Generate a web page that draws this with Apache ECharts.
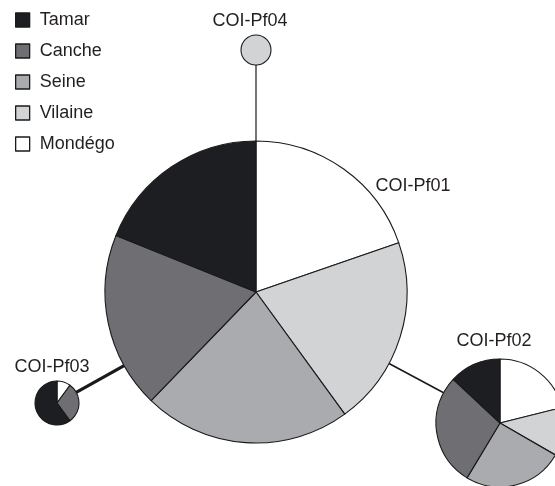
<!DOCTYPE html>
<html>
<head>
<meta charset="utf-8">
<script src="https://cdn.jsdelivr.net/npm/echarts@6/dist/echarts.min.js"></script>
<style>
  html, body { margin: 0; padding: 0; background: #ffffff; }
  #chart { width: 555px; height: 486px; }
</style>
</head>
<body>
<div id="chart"></div>
<script>
// ---- Data ----
const categories = ['Tamar', 'Canche', 'Seine', 'Vilaine', 'Mondégo'];
const haplotypes = ['COI-Pf01', 'COI-Pf02', 'COI-Pf03', 'COI-Pf04'];
// values per category (Tamar, Canche, Seine, Vilaine, Mondégo)
const pf01 = [68, 68, 80, 73, 71];
const pf02 = [47, 102, 91, 44, 76];
const pf03 = [6, 3, 0, 0, 1];
const pf04 = [0, 0, 0, 1, 0];
// links between haplotypes (index pairs)
const links = [[0, 1], [0, 2], [0, 3]];

// ---- Styling / layout ----
const colors = ['#1d1e22', '#6f6e73', '#aaabae', '#d2d3d5', '#ffffff'];
const nodeLayout = [
  { center: [256, 292], r: 151, label: [413, 186] },
  { center: [500, 423], r: 64, label: [494, 341] },
  { center: [57, 403], r: 22, label: [52, 367] },
  { center: [256, 50], r: 15, label: [250, 21] }
];
const linkWidth = [1.6, 3.2, 1.2];
const FONT = '"Liberation Sans", Arial, Helvetica, sans-serif';
const TEXT = '#231f20';

const values = [pf01, pf02, pf03, pf04];

function pieData(vals) {
  const out = [];
  // drawn clockwise from 12 o'clock: Mondégo, Vilaine, Seine, Canche, Tamar
  for (let i = categories.length - 1; i >= 0; i--) {
    if (vals[i] > 0) {
      out.push({ name: categories[i], value: vals[i], itemStyle: { color: colors[i] } });
    }
  }
  return out;
}

const series = values.map((vals, k) => ({
  type: 'pie',
  name: haplotypes[k],
  center: nodeLayout[k].center,
  radius: [0, nodeLayout[k].r],
  startAngle: 90,
  clockwise: true,
  avoidLabelOverlap: false,
  label: { show: false },
  labelLine: { show: false },
  emphasis: { scale: false },
  itemStyle: { borderColor: '#1a1a1a', borderWidth: 1.1 },
  data: pieData(vals),
  z: 3
}));

const graphics = [];
links.forEach((l, i) => {
  const a = nodeLayout[l[0]], b = nodeLayout[l[1]];
  const dx = b.center[0] - a.center[0], dy = b.center[1] - a.center[1];
  const d = Math.sqrt(dx * dx + dy * dy);
  const ux = dx / d, uy = dy / d;
  graphics.push({
    type: 'line',
    z: 1,
    shape: {
      x1: a.center[0] + ux * a.r, y1: a.center[1] + uy * a.r,
      x2: b.center[0] - ux * b.r, y2: b.center[1] - uy * b.r
    },
    style: { stroke: '#1a1a1a', lineWidth: linkWidth[i] }
  });
});
haplotypes.forEach((h, k) => {
  graphics.push({
    type: 'text',
    z: 10,
    x: nodeLayout[k].label[0],
    y: nodeLayout[k].label[1],
    style: {
      text: h,
      fill: TEXT,
      font: '18px ' + FONT,
      textAlign: 'center',
      textVerticalAlign: 'middle'
    }
  });
});

const chart = echarts.init(document.getElementById('chart'), null, { renderer: 'canvas' });
chart.setOption({
  animation: false,
  backgroundColor: '#ffffff',
  color: colors,
  legend: {
    data: categories,
    orient: 'vertical',
    left: 15,
    top: 11,
    padding: 0,
    itemWidth: 14,
    itemHeight: 14,
    itemGap: 13,
    icon: 'rect',
    selectedMode: false,
    itemStyle: { borderColor: '#1a1a1a', borderWidth: 1.3 },
    textStyle: { fontSize: 18, color: TEXT, fontFamily: FONT, padding: [0, 0, 0, 5] }
  },
  graphic: graphics,
  series: series
});
</script>
</body>
</html>
